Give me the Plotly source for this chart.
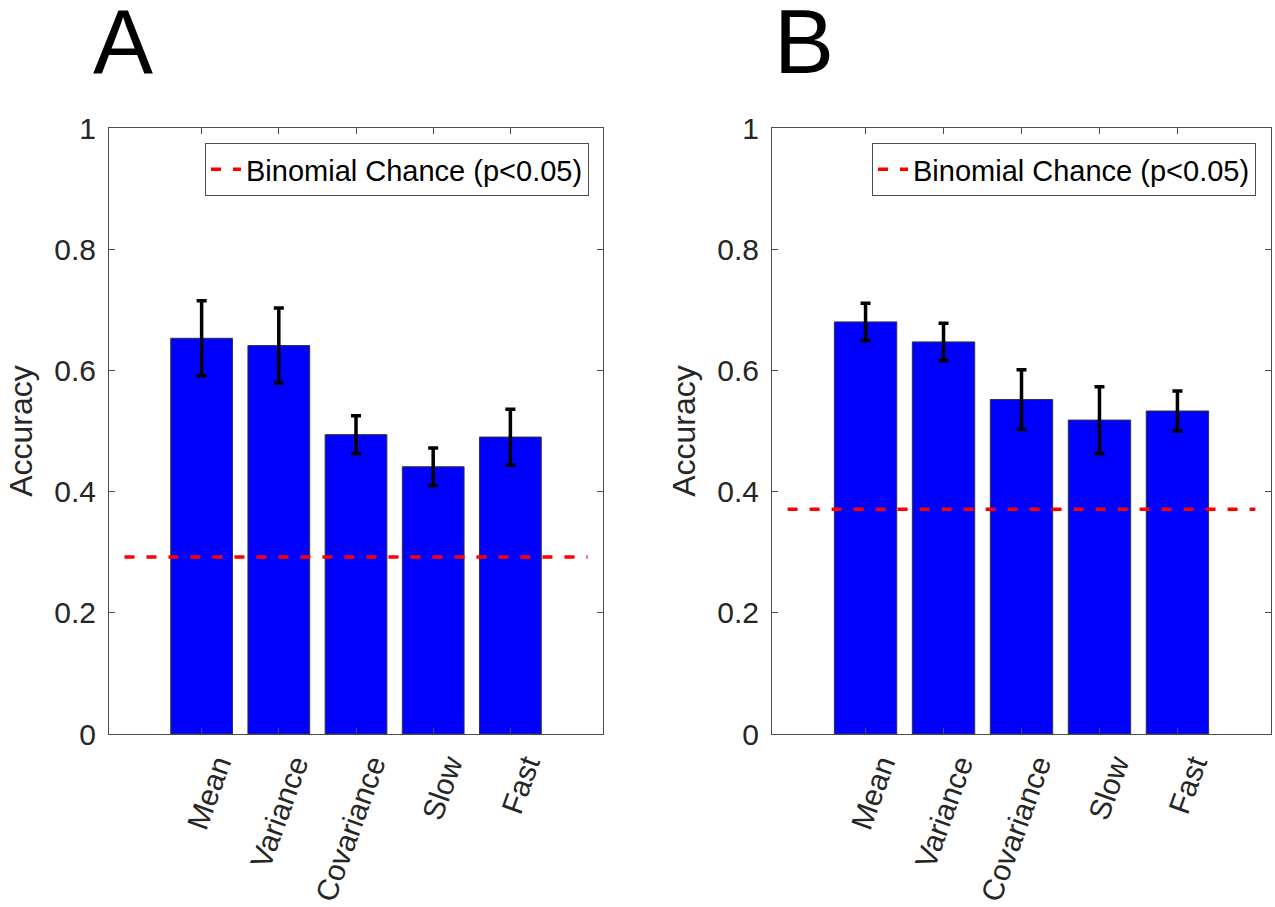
import plotly.graph_objects as go

categories = ["Mean", "Variance", "Covariance", "Slow", "Fast"]
acc_a = [0.653, 0.641, 0.494, 0.441, 0.490]
err_a = [0.062, 0.062, 0.031, 0.031, 0.046]
acc_b = [0.680, 0.647, 0.552, 0.518, 0.533]
err_b = [0.031, 0.031, 0.049, 0.055, 0.033]
chance_a = 0.292
chance_b = 0.371
chance_label = "Binomial Chance (p<0.05)"
y_ticks = [0, 0.2, 0.4, 0.6, 0.8, 1]
y_tick_text = ["0", "0.2", "0.4", "0.6", "0.8", "1"]

pos = list(range(len(categories)))
line_x = [pos[0] - 1, pos[-1] + 1]

FONT = "Liberation Sans, Arial, Helvetica, sans-serif"
AXC = "#4d4d4d"
TXT = "#262626"

fig = go.Figure()

for i, (acc, err, ch) in enumerate([(acc_a, err_a, chance_a), (acc_b, err_b, chance_b)]):
    xa = "x" if i == 0 else "x2"
    ya = "y" if i == 0 else "y2"
    lg = "legend" if i == 0 else "legend2"
    fig.add_trace(go.Bar(
        x=pos, y=acc, width=0.8, xaxis=xa, yaxis=ya,
        marker=dict(color="#0000ff", line=dict(color="#333333", width=1)),
        error_y=dict(type="data", array=err, color="black", thickness=3.5, width=5),
        showlegend=False,
    ))
    fig.add_trace(go.Scatter(
        x=line_x, y=[ch, ch], mode="lines", xaxis=xa, yaxis=ya,
        line=dict(color="#ff0000", width=3.5, dash="10px,12px"),
        name=chance_label, legend=lg, showlegend=True,
    ))

xcommon = dict(
    range=[-1.2, 5.2], tickvals=pos, ticktext=categories, tickangle=-70,
    ticks="inside", ticklen=6, tickcolor=AXC, showline=True, linecolor=AXC,
    linewidth=1, mirror="allticks", showgrid=False, zeroline=False,
    tickfont=dict(family=FONT, size=30, color=TXT), ticklabelshift=16,
    automargin=False,
)
ycommon = dict(
    range=[0, 1], tickvals=y_ticks, ticktext=y_tick_text,
    ticks="inside", ticklen=6, tickcolor=AXC, showline=True, linecolor=AXC,
    linewidth=1, mirror="allticks", showgrid=False, zeroline=False,
    tickfont=dict(family=FONT, size=30, color=TXT), ticklabelstandoff=6,
    title=dict(text="Accuracy", font=dict(family=FONT, size=32, color=TXT), standoff=12),
    automargin=False,
)

ybot = 1 - 734 / 907
ytop = 1 - 128 / 907

fig.update_layout(
    width=1275, height=907,
    margin=dict(l=0, r=0, t=0, b=0, autoexpand=False),
    paper_bgcolor="white", plot_bgcolor="white",
    xaxis=dict(domain=[109 / 1275, 603 / 1275], anchor="y", **xcommon),
    yaxis=dict(domain=[ybot, ytop], anchor="x", **ycommon),
    xaxis2=dict(domain=[772 / 1275, 1271 / 1275], anchor="y2", **xcommon),
    yaxis2=dict(domain=[ybot, ytop], anchor="x2", **ycommon),
    legend=dict(x=589 / 1275, y=1 - 143 / 907, xanchor="right", yanchor="top",
                bordercolor=AXC, borderwidth=1, bgcolor="white",
                font=dict(family=FONT, size=29, color="black")),
    legend2=dict(x=1256 / 1275, y=1 - 143 / 907, xanchor="right", yanchor="top",
                 bordercolor=AXC, borderwidth=1, bgcolor="white",
                 font=dict(family=FONT, size=29, color="black")),
    annotations=[
        dict(text="A", x=123 / 1275, y=1 - 42 / 907, xref="paper", yref="paper",
             showarrow=False, font=dict(family=FONT, size=90, color="black"),
             xanchor="center", yanchor="middle"),
        dict(text="B", x=804 / 1275, y=1 - 42 / 907, xref="paper", yref="paper",
             showarrow=False, font=dict(family=FONT, size=90, color="black"),
             xanchor="center", yanchor="middle"),
    ],
    bargap=0.2,
)

fig.write_html("out.html", config={"displayModeBar": False},
               post_script="document.body.style.margin='0';document.body.style.overflow='hidden';")
